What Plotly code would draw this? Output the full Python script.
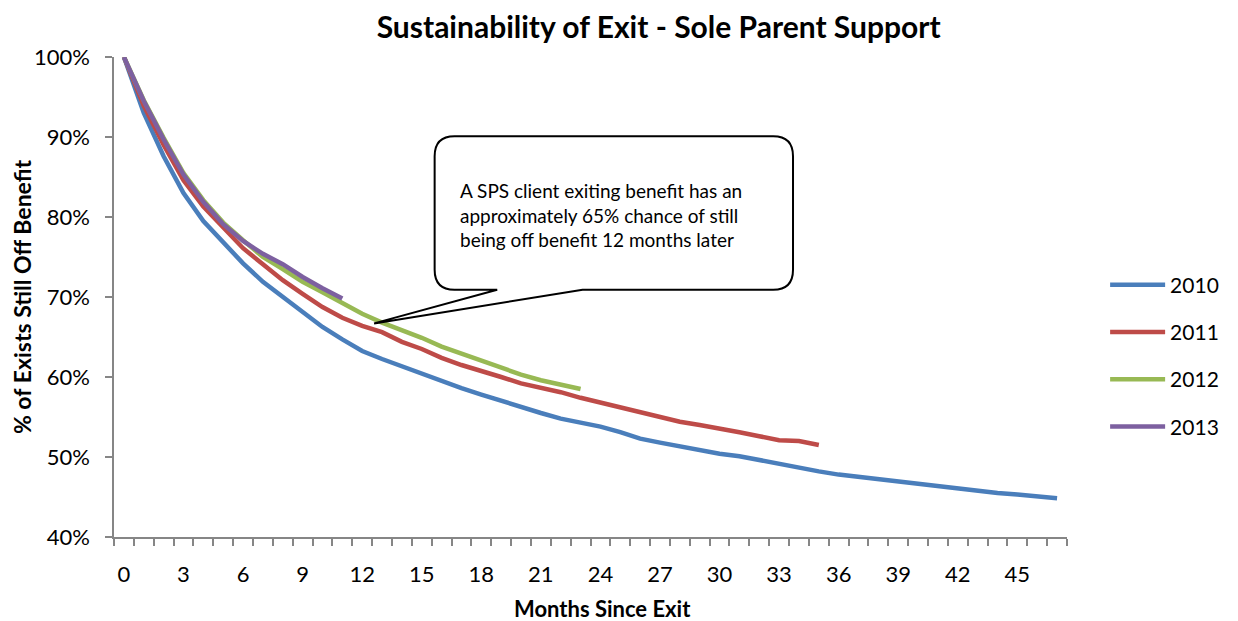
import plotly.graph_objects as go

months_2010 = list(range(0, 48))
months_2011 = list(range(0, 36))
months_2012 = list(range(0, 24))
months_2013 = list(range(0, 12))

pct_2010 = [100, 93.0, 87.6, 83.0, 79.5, 76.9, 74.2, 71.9, 70.0, 68.0,
            66.25, 64.7, 63.25, 62.25, 61.3, 60.5, 59.4, 58.6, 57.8, 57.0,
            56.25, 55.5, 54.8, 54.3, 53.8, 53.1, 52.3, 51.8, 51.3, 50.8,
            50.4, 50.1, 49.6, 49.1, 48.6, 48.2, 47.8, 47.5, 47.3, 46.9,
            46.6, 46.3, 46.0, 45.75, 45.5, 45.3, 45.05, 44.85]
pct_2011 = [100, 93.9, 89.0, 84.6, 81.3, 78.6, 76.1, 74.1, 72.1, 70.4,
            68.75, 67.4, 66.4, 65.6, 64.4, 63.5, 62.4, 61.5, 60.8, 60.0,
            59.2, 58.7, 58.1, 57.4, 56.8, 56.2, 55.7, 55.1, 54.4, 54.0,
            53.6, 53.1, 52.6, 52.1, 52.0, 51.5]
pct_2012 = [100, 94.6, 89.9, 85.5, 82.1, 79.3, 77.1, 75.0, 73.5, 71.9,
            70.6, 69.3, 67.9, 66.8, 65.9, 64.9, 63.8, 62.9, 62.1, 61.2,
            60.3, 59.6, 59.0, 58.5]
pct_2013 = [100, 94.5, 89.7, 85.3, 81.9, 79.1, 77.0, 75.4, 74.1, 72.5,
            71.1, 69.8]

series = [
    ("2010", months_2010, pct_2010, "#4A7EBB"),
    ("2011", months_2011, pct_2011, "#BE4B48"),
    ("2012", months_2012, pct_2012, "#98B954"),
    ("2013", months_2013, pct_2013, "#7D60A0"),
]

x_tick_vals = list(range(0, 48, 3))
x_tick_text = [str(v) for v in x_tick_vals]
y_tick_vals = [40, 50, 60, 70, 80, 90, 100]
y_tick_text = [f"{v}%" for v in y_tick_vals]

callout_lines = ["A SPS client exiting benefit has an",
                 "approximately 65% chance of still",
                 "being off benefit 12 months later"]

FONT = "Lato, 'Open Sans', sans-serif"
AXIS_GREY = "#868686"

fig = go.Figure()
for name, xs, ys, col in series:
    fig.add_trace(go.Scatter(
        x=xs, y=ys, mode="lines", name=name, legendgroup=name,
        line=dict(color=col, width=4.5, shape="linear"),
    ))

# callout geometry in data units (months / percent)
x0, x1 = 15.65, 33.7
y0, y1 = 70.9, 90.1
rx, ry = 1.0, 2.5
tip_x, tip_y = 12.6, 66.7
b1, b2 = 18.8, 23.1
path = (f"M {x0+rx},{y1} L {x1-rx},{y1} Q {x1},{y1} {x1},{y1-ry} "
        f"L {x1},{y0+ry} Q {x1},{y0} {x1-rx},{y0} "
        f"L {b2},{y0} L {tip_x},{tip_y} L {b1},{y0} "
        f"L {x0+rx},{y0} Q {x0},{y0} {x0},{y0+ry} "
        f"L {x0},{y1-ry} Q {x0},{y1} {x0+rx},{y1} Z")
fig.add_shape(type="path", path=path, xref="x", yref="y",
              line=dict(color="black", width=2), fillcolor="white", layer="above")

fig.add_annotation(x=16.85, y=80.2, xref="x", yref="y", xanchor="left", yanchor="middle",
                   align="left", showarrow=False, text="<br>".join(callout_lines),
                   font=dict(family=FONT, size=19, color="black"))

# x-axis title placed below tick labels
fig.add_annotation(x=0.513, y=-0.148, xref="paper", yref="paper",
                   xanchor="center", yanchor="middle", showarrow=False,
                   text="<b>Months Since Exit</b>",
                   font=dict(family=FONT, size=22, color="black"))

fig.update_layout(
    width=1230, height=613,
    margin=dict(l=106, r=171, t=49, b=84, autoexpand=False),
    paper_bgcolor="white", plot_bgcolor="white",
    title=dict(text="<b>Sustainability of Exit - Sole Parent Support</b>",
               x=0.529, xanchor="center", y=0.969, yanchor="middle",
               font=dict(family=FONT, size=30, color="black")),
    font=dict(family=FONT, color="black"),
    showlegend=True,
    legend=dict(x=1.04, xanchor="left", y=0.377, yanchor="middle",
                font=dict(family=FONT, size=21, color="black"),
                traceorder="grouped", tracegroupgap=17, itemwidth=55,
                bgcolor="rgba(0,0,0,0)"),
    xaxis=dict(range=[-0.5, 47.5], tickmode="array", tickvals=x_tick_vals,
               ticktext=x_tick_text, ticks="", ticklabelstandoff=17,
               showgrid=False, zeroline=False, showline=True, automargin=False,
               linecolor=AXIS_GREY, linewidth=1.5,
               tickfont=dict(family=FONT, size=22, color="black"),
               minor=dict(tickmode="linear", tick0=-0.5, dtick=1, ticks="outside",
                          ticklen=7, tickcolor=AXIS_GREY, tickwidth=1.5, showgrid=False)),
    yaxis=dict(range=[40, 100], tickmode="array", tickvals=y_tick_vals,
               ticktext=y_tick_text, ticks="outside", ticklen=7,
               tickcolor=AXIS_GREY, tickwidth=1.5, ticklabelstandoff=11,
               showgrid=False, zeroline=False, showline=True, automargin=False,
               linecolor=AXIS_GREY, linewidth=1.5,
               tickfont=dict(family=FONT, size=22, color="black"),
               title=dict(text="<b>% of Exists Still Off Benefit</b>", standoff=2,
                          font=dict(family=FONT, size=23, color="black"))),
)

fig.write_html("out.html")
